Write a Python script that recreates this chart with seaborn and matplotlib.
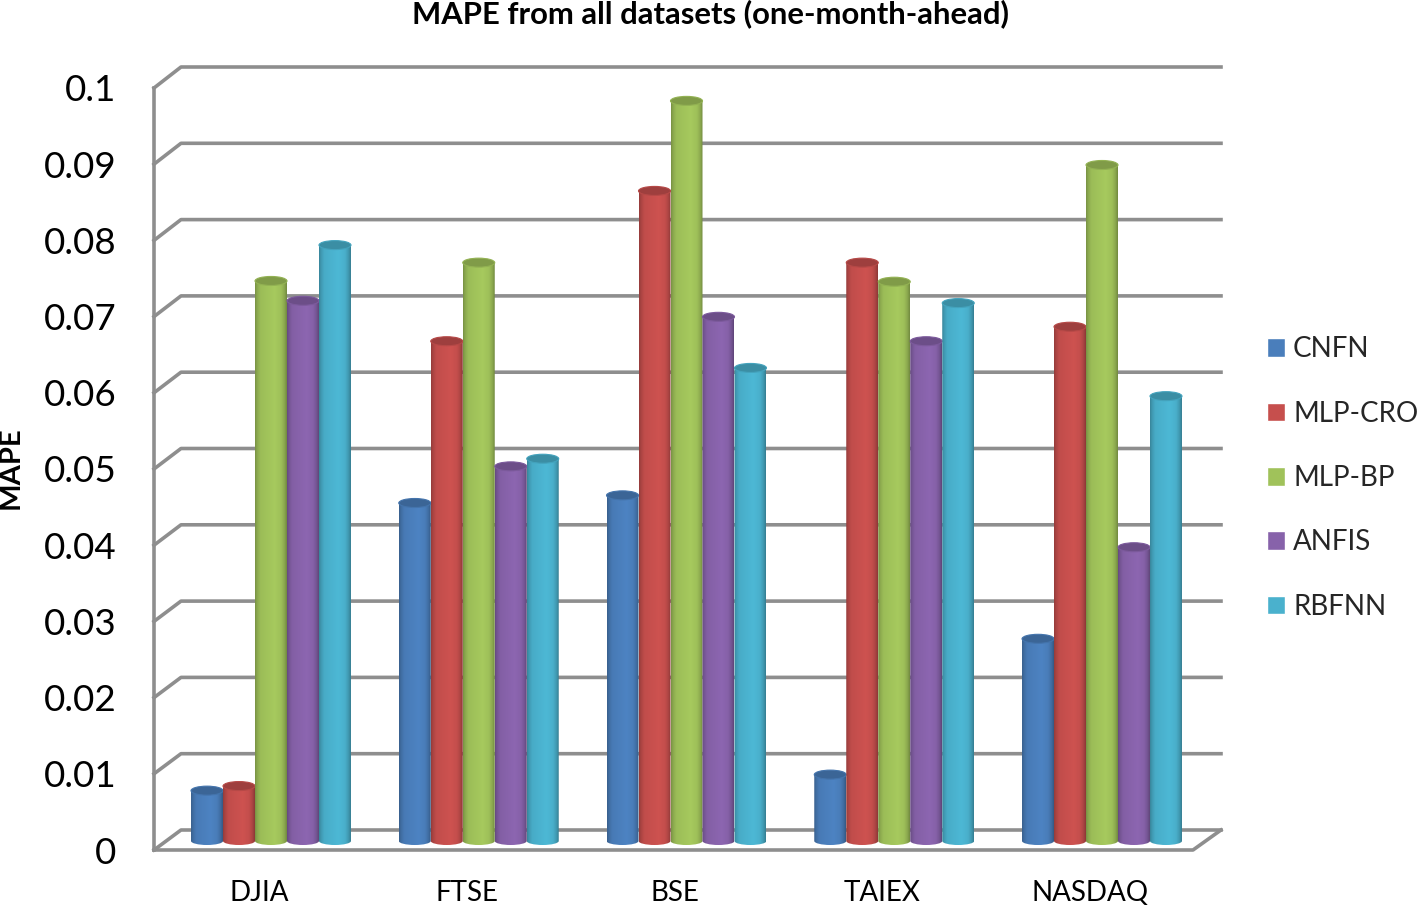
import numpy as np
import pandas as pd
import matplotlib
matplotlib.use("Agg")
import matplotlib.pyplot as plt
from matplotlib.colors import to_rgb
from matplotlib.patches import Ellipse, PathPatch
from matplotlib.path import Path
import seaborn as sns

# values
markets = ["DJIA", "FTSE", "BSE", "TAIEX", "NASDAQ"]
cnfn = [0.0066, 0.0443, 0.0453, 0.0087, 0.0265]
mlp_cro = [0.0072, 0.0655, 0.0852, 0.0758, 0.0674]
mlp_bp = [0.0734, 0.0758, 0.0970, 0.0733, 0.0886]
anfis = [0.0708, 0.0491, 0.0687, 0.0655, 0.0385]
rbfnn = [0.0781, 0.0501, 0.0620, 0.0705, 0.0583]
tick_values = [0, 0.01, 0.02, 0.03, 0.04, 0.05, 0.06, 0.07, 0.08, 0.09, 0.1]
tick_labels = ["0", "0.01", "0.02", "0.03", "0.04", "0.05", "0.06", "0.07", "0.08", "0.09", "0.1"]
models = ["CNFN", "MLP-CRO", "MLP-BP", "ANFIS", "RBFNN"]
colors = ["#4A7EBB", "#C64F4D", "#A0C25A", "#8762AA", "#4AB1CD"]

W, H = 1418, 905
PX_X = 207.75   # pixels per category
PX_Y = 7630.0   # pixels per unit of MAPE
GRAY = "#8E8E8E"

sns.set_theme(style="white")
plt.rcParams["font.family"] = ["Lato", "DejaVu Sans"]

df = pd.DataFrame({
    "market": markets * 5,
    "model": [m for m in models for _ in markets],
    "mape": cnfn + mlp_cro + mlp_bp + anfis + rbfnn,
})

fig = plt.figure(figsize=(W / 100, H / 100), dpi=100)
ax = fig.add_axes([154 / W, 1 - 850 / H, (1221 - 154) / W, (850 - 67) / H])
ax.patch.set_alpha(0)

sns.barplot(data=df, x="market", y="mape", hue="model", order=markets,
            hue_order=models, palette=colors, width=0.77, gap=0,
            saturation=1, errorbar=None, ax=ax, zorder=3)

xlim = ((154 - 271) / PX_X, (1221 - 271) / PX_X)
ylim = (-9 / PX_Y, 774 / PX_Y)

# walls and floor
front_dy = -9 / PX_Y
back_dy = 11 / PX_Y
x_back = xlim[0] + 27 / PX_X
x_front_r = xlim[1] - 28 / PX_X
line = dict(color=GRAY, lw=2.6, solid_capstyle="projecting", clip_on=False, zorder=1)
for v in tick_values:
    ax.plot([xlim[0], x_back, xlim[1]], [v * 0.9987 + front_dy, v + back_dy, v + back_dy], **line)
ax.plot([xlim[0], xlim[0]], [front_dy, 0.1 * 0.9987 + front_dy], **line)
ax.plot([xlim[0], x_front_r, xlim[1]], [front_dy, front_dy, back_dy], **line)

# turn the flat bars into cylinders
profile_x = [0, 0.06, 0.16, 0.35, 0.62, 0.82, 0.93, 1]
profile_y = [0.76, 0.87, 0.97, 1.0, 1.04, 0.99, 0.87, 0.72]
cap_h = 9 / PX_Y
low_h = 8 / PX_Y
for i, (bars, color) in enumerate(zip(ax.containers, colors)):
    rgb = np.array(to_rgb(color))
    shade = np.interp(np.linspace(0, 1, 40), profile_x, profile_y)
    strip = np.clip(shade[None, :, None] * rgb[None, None, :], 0, 1)
    z = 3 + i * 0.1
    for bar in bars:
        x0, w, top = bar.get_x(), bar.get_width(), bar.get_height()
        bar.set_visible(False)
        # body with a rounded foot
        k = 0.5523
        cx, rx, ry = x0 + w / 2, w / 2, low_h / 2
        verts = [(x0, top), (x0, 0),
                 (x0, -k * ry), (cx - k * rx, -ry), (cx, -ry),
                 (cx + k * rx, -ry), (x0 + w, -k * ry), (x0 + w, 0),
                 (x0 + w, top), (x0, top)]
        codes = [Path.MOVETO, Path.LINETO] + [Path.CURVE4] * 6 + [Path.LINETO, Path.CLOSEPOLY]
        clip = PathPatch(Path(verts, codes), transform=ax.transData, fc="none", ec="none")
        ax.add_patch(clip)
        im = ax.imshow(strip, extent=(x0, x0 + w, -low_h, top), aspect="auto",
                       interpolation="bilinear", zorder=z)
        im.set_clip_path(clip)
        ax.add_patch(Ellipse((cx, top), w, cap_h, fc=rgb * 0.8, ec=rgb * 0.92,
                             lw=0.8, zorder=z + 0.01))

ax.set_xlim(xlim)
ax.set_ylim(ylim)
sns.despine(ax=ax, left=True, bottom=True)

ax.set_xticks(np.arange(len(markets)) - 12 / PX_X, markets)
ax.set_yticks([v * 0.9987 + front_dy for v in tick_values], tick_labels)
ax.tick_params(axis="x", length=0, pad=21.5, labelsize=20, labelcolor="black")
ax.tick_params(axis="y", length=0, pad=27, labelsize=26.5, labelcolor="black")
ax.set_xlabel("")
ax.set_ylabel("")

fig.text(11 / W, 1 - 468 / H, "MAPE", rotation=90, ha="center", va="center",
         fontsize=21, fontweight="bold", color="black")
fig.suptitle("MAPE from all datasets (one-month-ahead)", x=711 / W, y=1 - 14 / H,
             ha="center", va="center", fontsize=22.3, fontweight="bold", color="black")

sns.move_legend(ax, "center left", bbox_to_anchor=(1267 / W, 1 - 478 / H),
                bbox_transform=fig.transFigure, title=None, frameon=False,
                fontsize=20, labelspacing=1.38, handlelength=0.65, handleheight=0.65,
                handletextpad=0.29, borderpad=0, borderaxespad=0)

fig.savefig("out.png", dpi=100)
